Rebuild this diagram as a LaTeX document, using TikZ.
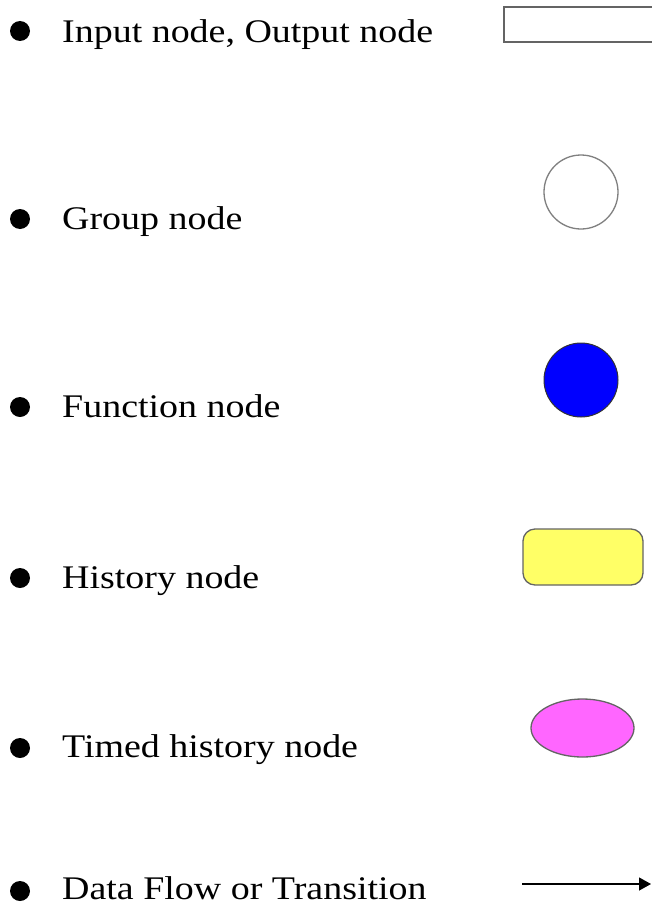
\documentclass[tikz,border=0pt]{standalone}
\usepackage{fontspec}
\setmainfont[FakeStretch=1.15]{Liberation Serif}
\usetikzlibrary{shapes.geometric,arrows.meta}
\definecolor{edgegray}{RGB}{100,100,100}
\definecolor{histyellow}{RGB}{255,255,102}
\definecolor{timedpink}{RGB}{255,102,255}
\tikzset{
  bulletdot/.style={circle,fill=black,inner sep=0pt,minimum size=20pt},
  itemtext/.style={anchor=base west,inner sep=0pt,font=\fontsize{33}{40}\selectfont},
  shapeline/.style={draw=edgegray,line width=1.3pt},
}
\begin{document}
\begin{tikzpicture}[x=1pt,y=-1pt]
\useasboundingbox[fill=white] (0,0) rectangle (651,907);
% bullets and texts
\node[bulletdot] (b1) at (20,31) {};
\node[itemtext] (t1) at (62,43) {Input node, Output node};
\node[bulletdot] (b2) at (20,219) {};
\node[itemtext] (t2) at (62,229) {Group node};
\node[bulletdot] (b3) at (20,407) {};
\node[itemtext] (t3) at (62,417) {Function node};
\node[bulletdot] (b4) at (20,578) {};
\node[itemtext] (t4) at (62,588) {History node};
\node[bulletdot] (b5) at (20,748) {};
\node[itemtext] (t5) at (62,757) {Timed history node};
\node[bulletdot] (b6) at (20,891) {};
\node[itemtext] (t6) at (62,899) {Data Flow or Transition};
% shapes
\draw[shapeline] (660,7) -- (504,7) -- (504,42) -- (660,42);
\node[circle,draw=gray,line width=1.3pt,fill=white,minimum size=74pt,inner sep=0pt] (grp) at (581,192) {};
\node[circle,draw=black!80,line width=1pt,fill=blue,minimum size=74pt,inner sep=0pt] (fn) at (581,380) {};
\node[rectangle,rounded corners=12pt,shapeline,fill=histyellow,minimum width=120pt,minimum height=56pt,inner sep=0pt] (hist) at (583,557) {};
\node[ellipse,shapeline,fill=timedpink,minimum width=103pt,minimum height=58pt,inner sep=0pt] (timed) at (582.5,728) {};
\coordinate (af) at (522,884);
\coordinate (at) at (651,884);
\draw[line width=1.2pt,-{Triangle[length=12pt,width=13pt]}] (af) -- (at);
\end{tikzpicture}
\end{document}
